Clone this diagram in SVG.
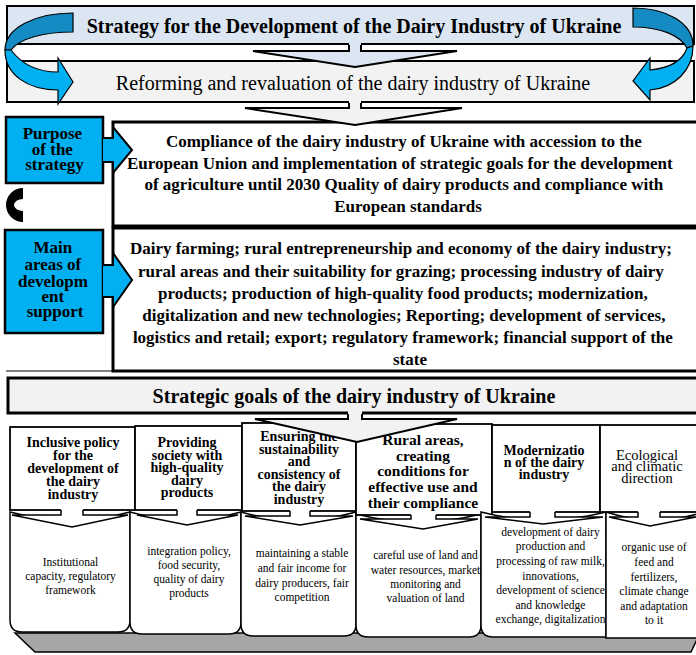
<svg xmlns="http://www.w3.org/2000/svg" width="696" height="655" viewBox="0 0 696 655">
<style>
text{font-family:"Liberation Serif","Times New Roman",serif;fill:#000;text-anchor:middle}
.b{font-weight:bold}
.t20{font-size:20px}
.t17{font-size:17px}
.h14{font-size:14px;font-weight:bold}
.h15{font-size:15.5px;font-weight:bold}
.r14{font-size:14.5px}
.s{font-size:11.5px}
.box{stroke:#000;stroke-width:2}
.lbl{fill:#00b0f0;stroke:#000;stroke-width:2.5}
.hdr{fill:#fff;stroke:#000;stroke-width:1.8}
.low{fill:#fff;stroke:#000;stroke-width:1.5}
.cf{stroke:none}
.co{fill:none;stroke:#000;stroke-width:2;stroke-linejoin:miter}
.cs{fill:none;stroke:#000;stroke-width:1.5}
.cu{stroke:#000;stroke-width:1.2}
</style>

<g id="platform">
<polygon points="15,633 700,633 691,652 35,652" fill="#a6a6a6" stroke="#000" stroke-width="1.5"/>
</g>

<g id="title">
<rect x="7" y="6" width="687" height="38" fill="#dce6f2" class="box"/>
<text x="354" y="33" class="b t20">Strategy for the Development of the Dairy Industry of Ukraine</text>
</g>

<g id="reforming">
<rect x="7" y="61" width="687" height="41" fill="#f2f2f2" class="box"/>
<text x="353" y="90" class="t20">Reforming and revaluation of the dairy industry of Ukraine</text>
</g>

<g id="purpose-box">
<rect x="113" y="122" width="600" height="104" fill="#fff" stroke="#000" stroke-width="3"/>
<text class="b t17" x="405">
<tspan x="406" y="147">Compliance of the dairy industry of Ukraine with accession to the</tspan>
<tspan x="402" y="168.5">European Union and implementation of strategic goals for the development</tspan>
<tspan x="406" y="190">of agriculture until 2030 Quality of dairy products and compliance with</tspan>
<tspan x="408" y="212">European standards</tspan>
</text>
</g>

<g id="areas-box">
<rect x="113" y="228" width="600" height="143" fill="#fff" stroke="#000" stroke-width="3"/>
<line x1="6" y1="371" x2="113" y2="371" stroke="#000" stroke-width="1"/>
<text class="b t17">
<tspan x="403" y="254">Dairy farming; rural entrepreneurship and economy of the dairy industry;</tspan>
<tspan x="403" y="276.5">rural areas and their suitability for grazing; processing industry of dairy</tspan>
<tspan x="405" y="298.5">products; production of high-quality food products; modernization,</tspan>
<tspan x="406" y="320.5">digitalization and new technologies; Reporting; development of services,</tspan>
<tspan x="405" y="342.5">logistics and retail; export; regulatory framework; financial support of the</tspan>
<tspan x="410" y="364.5">state</tspan>
</text>
</g>

<g id="purpose-label">
<rect x="6" y="117" width="97" height="66" class="lbl"/>
<text class="b t17">
<tspan x="54.5" y="139">Purpose</tspan>
<tspan x="54.5" y="155">of the</tspan>
<tspan x="54.5" y="170">strategy</tspan>
</text>
</g>

<g id="c-mark">
<path d="M23,188 A17,17 0 0 0 23,222 L23,211 A9,6 0 0 1 23,199 Z" fill="#000"/>
</g>

<g id="areas-label">
<rect x="5" y="230" width="98" height="103" class="lbl"/>
<text class="b t17">
<tspan x="55" y="253">Main</tspan>
<tspan x="55" y="270">areas of</tspan>
<tspan x="55" y="287">developm</tspan>
<tspan x="55" y="302">ent</tspan>
<tspan x="55" y="317">support</tspan>
</text>
</g>

<g id="goals">
<rect x="8" y="378" width="700" height="35" fill="#f2f2f2" stroke="#000" stroke-width="3"/>
<text x="354" y="403" class="b t20">Strategic goals of the dairy industry of Ukraine</text>
</g>

<g id="goal-1">
<path class="low" d="M10,512 Q70,528 130,512 L130,620 Q130,632 118,632 L22,632 Q10,632 10,620 Z"/>
<rect x="10" y="427" width="125" height="83" class="hdr"/>
<text class="h14"><tspan x="73" y="447">Inclusive policy</tspan><tspan x="73" y="460">for the</tspan><tspan x="73" y="473">development of</tspan><tspan x="73" y="486">the dairy</tspan><tspan x="73" y="499">industry</tspan></text>
<text class="s"><tspan x="70.5" y="565.5">Institutional</tspan><tspan x="70.5" y="579.5">capacity, regulatory</tspan><tspan x="70.5" y="593.5">framework</tspan></text>
</g>

<g id="goal-2">
<path class="low" d="M130,512 Q185,528 241,512 L241,622 Q241,634 229,634 L142,634 Q130,634 130,622 Z"/>
<rect x="135" y="426" width="107" height="84" class="hdr"/>
<text class="h14"><tspan x="187" y="447">Providing</tspan><tspan x="187" y="459.5">society with</tspan><tspan x="187" y="472">high-quality</tspan><tspan x="187" y="484.5">dairy</tspan><tspan x="187" y="497">products</tspan></text>
<text class="s"><tspan x="189" y="555">integration policy,</tspan><tspan x="189" y="569">food security,</tspan><tspan x="189" y="583">quality of dairy</tspan><tspan x="189" y="597">products</tspan></text>
</g>

<g id="goal-3">
<path class="low" d="M241,512 Q298,528 356,512 L356,624 Q356,636 344,636 L253,636 Q241,636 241,624 Z"/>
<rect x="242" y="423" width="114" height="88" class="hdr"/>
<text class="h14"><tspan x="299" y="441">Ensuring the</tspan><tspan x="299" y="453.5">sustainability</tspan><tspan x="299" y="466">and</tspan><tspan x="299" y="478.5">consistency of</tspan><tspan x="299" y="491">the dairy</tspan><tspan x="299" y="503.5">industry</tspan></text>
<text class="s"><tspan x="302" y="557">maintaining a stable</tspan><tspan x="302" y="572">and fair income for</tspan><tspan x="302" y="586.5">dairy producers, fair</tspan><tspan x="302" y="601">competition</tspan></text>
</g>

<g id="goal-4">
<path class="low" d="M356,514 Q418,530 481,514 L481,625 Q481,637 469,637 L368,637 Q356,637 356,625 Z"/>
<rect x="356" y="424" width="136" height="91" class="hdr"/>
<text class="h15"><tspan x="423" y="445">Rural areas,</tspan><tspan x="423" y="460.5">creating</tspan><tspan x="423" y="476">conditions for</tspan><tspan x="423" y="492">effective use and</tspan><tspan x="423" y="508">their compliance</tspan></text>
<text class="s"><tspan x="425.5" y="558.5">careful use of land and</tspan><tspan x="425.5" y="573.5">water resources, market</tspan><tspan x="425.5" y="587.5">monitoring and</tspan><tspan x="425.5" y="601.5">valuation of land</tspan></text>
</g>

<g id="goal-5">
<path class="low" d="M481,512 Q543,528 606,512 L606,637 L493,637 Q481,637 481,625 Z"/>
<rect x="492" y="425" width="108" height="87" class="hdr"/>
<text class="h14"><tspan x="544" y="455">Modernizatio</tspan><tspan x="544" y="467">n of the dairy</tspan><tspan x="544" y="479">industry</tspan></text>
<text class="s"><tspan x="550.5" y="535.5">development of dairy</tspan><tspan x="550.5" y="549.5">production and</tspan><tspan x="550.5" y="565">processing of raw milk,</tspan><tspan x="550.5" y="579.5">innovations,</tspan><tspan x="550.5" y="593.5">development of science</tspan><tspan x="550.5" y="608.5">and knowledge</tspan><tspan x="550.5" y="622.5">exchange, digitalization</tspan></text>
</g>

<g id="goal-6">
<path class="low" d="M606,512 Q655,528 704,512 L704,638 L606,638 Z"/>
<rect x="600" y="425" width="104" height="87" class="hdr"/>
<text class="r14"><tspan x="647" y="459.5">Ecological</tspan><tspan x="647" y="471">and climatic</tspan><tspan x="647" y="482.5">direction</tspan></text>
<text class="s"><tspan x="654" y="550.5">organic use of</tspan><tspan x="654" y="565.5">feed and</tspan><tspan x="654" y="580.5">fertilizers,</tspan><tspan x="654" y="595">climate change</tspan><tspan x="654" y="609.5">and adaptation</tspan><tspan x="654" y="623.5">to it</tspan></text>
</g>

<g id="connectors">
<!-- big down chevrons -->
<polygon class="cf" fill="#dce6f2" points="349,43 349,51 253,51 355,67 457,51 361,51 361,43"/>
<polyline class="co" points="349,45 349,51 253,51 355,67 457,51 361,51 361,45"/>
<polygon class="cf" fill="#f2f2f2" points="349,101 349,108 245,108 355,125 462,108 361,108 361,101"/>
<polyline class="co" points="349,103 349,108 245,108 355,125 462,108 361,108 361,103"/>
<polygon class="cf" fill="#f2f2f2" points="348,411 348,419 255,419 357,442 457,419 362,419 362,411"/>
<polyline class="co" points="348,414 348,419 255,419 357,442 457,419 362,419 362,414"/>

<!-- small chevrons -->
<polygon class="cf" fill="#fff" points="61,509 61,515 12,515 72,527 128,515 83,515 83,509"/>
<polyline class="cs" points="61,510 61,515 12,515 72,527 128,515 83,515 83,510"/>
<polygon class="cf" fill="#fff" points="177,509 177,515 137,515 187,525 238,515 197,515 197,509"/>
<polyline class="cs" points="177,510 177,515 137,515 187,525 238,515 197,515 197,510"/>
<polygon class="cf" fill="#fff" points="290,510 290,516 245,516 300,525 353,516 310,516 310,510"/>
<polyline class="cs" points="290,511 290,516 245,516 300,525 353,516 310,516 310,511"/>
<polygon class="cf" fill="#fff" points="411,514 411,519 360,519 423,529 478,519 436,519 436,514"/>
<polyline class="cs" points="411,515 411,519 360,519 423,529 478,519 436,519 436,515"/>
<polygon class="cf" fill="#fff" points="530,511 530,517 485,517 543,524 603,517 555,517 555,511"/>
<polyline class="cs" points="530,512 530,517 485,517 543,524 603,517 555,517 555,512"/>
<polygon class="cf" fill="#fff" points="638,511 638,517 609,517 650,526 696,517 660,517 660,511"/>
<polyline class="cs" points="638,512 638,517 609,517 650,526 696,517 660,517 660,512"/>

<!-- side block arrows -->
<path d="M103,138 L113,138 L113,127 L132,150 L113,173 L113,162 L103,162" fill="#00b0f0" stroke="#000" stroke-width="2"/>
<path d="M103,265 L113,265 L113,253 L132,280 L113,307 L113,297 L103,297" fill="#00b0f0" stroke="#000" stroke-width="2"/>

<!-- curved arrows -->
<path class="cu" fill="#158bc3" d="M73,13 L73,32 C45,32 20,38 11,50 L5,50 C5,28 35,13 73,13 Z"/>
<path class="cu" fill="#00b0f0" d="M5,50 L11,50 C20,62 35,72 58,72 L58,58 L73,82 L58,104 L58,90 C28,90 5,75 5,50 Z"/>
<path class="cu" fill="#158bc3" d="M633,8 C665,8 693,22 693,46 L687,48 C680,35 660,27 633,27 Z"/>
<path class="cu" fill="#00b0f0" d="M693,46 C693,70 675,88 650,90 L650,100 L633,81 L650,58 L650,70 C670,68 683,60 687,48 Z"/>
</g>
</svg>
